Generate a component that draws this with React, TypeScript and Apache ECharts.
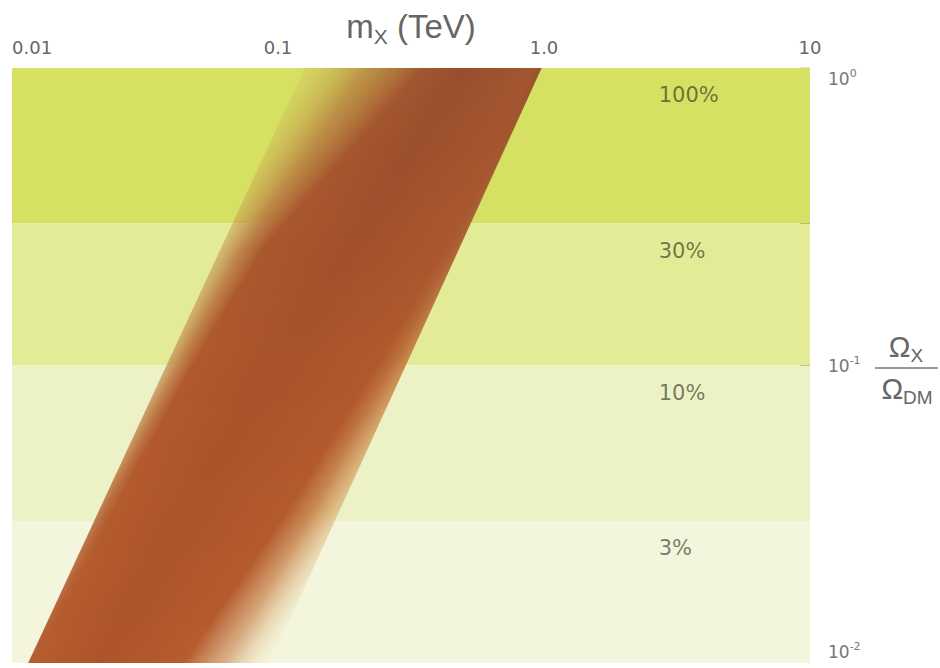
import React, { useEffect, useRef } from 'react';
import * as echarts from 'echarts';

// ---- data ----
const massTicks = [0.01, 0.1, 1, 10];
const massTickLabels = ['0.01', '0.1', '1.0', '10'];
const massTickMarks = [0.1, 1];
const ratioTickMarks = [1, 0.3, 0.1, 0.03];
const ratioLabelValues = [0.01, 0.1, 1];
const ratioExponents = ['-2', '-1', '0'];
const bandUpper = [1, 0.3, 0.1, 0.03];
const bandLower = [0.3, 0.1, 0.03, 0.01];
const bandNames = ['100%', '30%', '10%', '3%'];
// relic band: edges at the top (ratio 1) and bottom (ratio 0.01)
const relicRatio = [1, 0.01];
const relicMassLow = [0.126, 0.0115];
const relicMassHigh = [0.98, 0.0933];

// ---- styles ----
const bandColors = ['#d6e063', '#e3eb97', '#edf2c6', '#f3f6dd'];
const LABEL_MASS = 2.7;

type RGB = [number, number, number];
interface Key {
  s: number; a0L: number; wL: number; lt: RGB; ce: RGB; cm: RGB; mid: number; rt: RGB; aR: number; wR: number;
}
const keys: Key[] = [
  { s: 0, a0L: 0.2, wL: 0.5, lt: [206, 182, 82], ce: [162, 86, 48], cm: [152, 78, 46], mid: 0.66, rt: [150, 76, 45], aR: 0.95, wR: 0.03 },
  { s: 0.3, a0L: 0.55, wL: 0.18, lt: [198, 152, 82], ce: [170, 87, 46], cm: [161, 80, 44], mid: 0.55, rt: [168, 88, 48], aR: 0.9, wR: 0.06 },
  { s: 0.5, a0L: 0.7, wL: 0.11, lt: [198, 146, 84], ce: [176, 89, 45], cm: [167, 82, 42], mid: 0.45, rt: [196, 122, 62], aR: 0.85, wR: 0.12 },
  { s: 0.75, a0L: 0.88, wL: 0.06, lt: [185, 110, 60], ce: [180, 91, 45], cm: [171, 84, 42], mid: 0.36, rt: [215, 160, 95], aR: 0.5, wR: 0.22 },
  { s: 1, a0L: 0.95, wL: 0.03, lt: [176, 86, 43], ce: [182, 92, 46], cm: [173, 84, 42], mid: 0.3, rt: [238, 222, 180], aR: 0.0, wR: 0.36 },
];
const lerp = (a: number, b: number, t: number) => a + (b - a) * t;
const mixC = (a: RGB, b: RGB, t: number): RGB => [lerp(a[0], b[0], t), lerp(a[1], b[1], t), lerp(a[2], b[2], t)];
const rgba = (c: RGB, a: number) => `rgba(${Math.round(c[0])},${Math.round(c[1])},${Math.round(c[2])},${a.toFixed(3)})`;

function keyAt(s: number): Key {
  let j = 0;
  while (j < keys.length - 2 && s > keys[j + 1].s) j++;
  const k0 = keys[j];
  const k1 = keys[j + 1];
  const t = Math.max(0, Math.min(1, (s - k0.s) / (k1.s - k0.s)));
  return {
    s,
    a0L: lerp(k0.a0L, k1.a0L, t), wL: lerp(k0.wL, k1.wL, t), lt: mixC(k0.lt, k1.lt, t),
    ce: mixC(k0.ce, k1.ce, t), cm: mixC(k0.cm, k1.cm, t), mid: lerp(k0.mid, k1.mid, t),
    rt: mixC(k0.rt, k1.rt, t), aR: lerp(k0.aR, k1.aR, t), wR: lerp(k0.wR, k1.wR, t),
  };
}

function stopsAt(s: number) {
  const k = keyAt(s);
  const stops: { offset: number; color: string }[] = [];
  stops.push({ offset: 0, color: rgba(k.lt, k.a0L) });
  stops.push({ offset: k.wL * 0.5, color: rgba(mixC(k.lt, k.ce, 0.5), lerp(k.a0L, 1, 0.75)) });
  stops.push({ offset: k.wL, color: rgba(k.ce, 1) });
  const m = Math.min(Math.max(k.mid, k.wL + 0.01), 1 - k.wR - 0.01);
  stops.push({ offset: m, color: rgba(k.cm, 1) });
  stops.push({ offset: 1 - k.wR, color: rgba(k.ce, 1) });
  stops.push({ offset: 1 - k.wR * 0.5, color: rgba(mixC(k.rt, k.ce, 0.5), lerp(k.aR, 1, 0.75)) });
  stops.push({ offset: 1, color: rgba(k.rt, k.aR) });
  return stops;
}

function indexOfLog(values: number[], v: number) {
  return values.findIndex((t) => Math.abs(Math.log10(t) - Math.log10(v)) < 1e-6);
}

export default function App() {
  const ref = useRef<HTMLDivElement>(null);
  useEffect(() => {
    if (!ref.current) return;
    const chart = echarts.init(ref.current, null, { renderer: 'svg' });
    const option: any = {
      animation: false,
      backgroundColor: '#ffffff',
      grid: { left: 12, right: 130, top: 68, bottom: 5, containLabel: false, outerBoundsMode: 'none' },
      xAxis: {
        type: 'log',
        logBase: 10,
        min: 0.01,
        max: 10,
        position: 'top',
        name: '{m|m}{x|X}{t| (TeV)}',
        nameLocation: 'middle',
        nameGap: 21,
        nameMoveOverlap: false,
        nameTextStyle: {
          rich: {
            m: { fontSize: 33, fontFamily: 'Liberation Sans', color: '#666', lineHeight: 42 },
            t: { fontSize: 33, fontFamily: 'Liberation Sans', color: '#666', lineHeight: 42 },
            x: { fontSize: 21, fontFamily: 'Liberation Sans', color: '#666', verticalAlign: 'bottom', lineHeight: 20 },
          },
        },
        axisLine: { show: false },
        splitLine: { show: false },
        axisTick: { show: true, inside: true, length: 10, customValues: massTickMarks, lineStyle: { color: '#444', width: 1.3 } },
        axisLabel: {
          customValues: massTicks,
          margin: 12,
          color: '#666',
          fontSize: 18,
          fontFamily: 'DejaVu Sans',
          alignMinLabel: 'left',
          formatter: (v: number) => {
            const i = indexOfLog(massTicks, v);
            return i >= 0 ? massTickLabels[i] : '';
          },
        },
      },
      yAxis: {
        type: 'log',
        logBase: 10,
        min: 0.01,
        max: 1,
        position: 'right',
        axisLine: { show: false },
        splitLine: { show: false },
        axisTick: { show: true, inside: true, length: 10, customValues: ratioTickMarks, lineStyle: { color: '#444', width: 1.3 } },
        axisLabel: {
          customValues: ratioLabelValues,
          margin: 18,
          color: '#777',
          fontSize: 17,
          fontFamily: 'DejaVu Sans',
          verticalAlignMinLabel: 'bottom',
          verticalAlignMaxLabel: 'top',
          formatter: (v: number) => {
            const i = indexOfLog(ratioLabelValues, v);
            return i >= 0 ? `{b|10}{s|${ratioExponents[i]}}` : '';
          },
          rich: {
            b: { fontSize: 17, fontFamily: 'DejaVu Sans', color: '#777', lineHeight: 22 },
            s: { fontSize: 11, fontFamily: 'DejaVu Sans', color: '#777', verticalAlign: 'top', lineHeight: 14 },
          },
        },
      },
      series: [
        {
          type: 'custom',
          name: 'fraction bands',
          silent: true,
          encode: { x: 0, y: [1, 2] },
          data: bandUpper.map((u, i) => [LABEL_MASS, u, bandLower[i], i]),
          renderItem: (params: any, api: any) => {
            const cs = params.coordSys;
            const i = api.value(3);
            const pTop = api.coord([api.value(0), api.value(1)]);
            const pBot = api.coord([api.value(0), api.value(2)]);
            return {
              type: 'group',
              children: [
                { type: 'rect', shape: { x: cs.x, y: pTop[1], width: cs.width, height: pBot[1] - pTop[1] }, style: { fill: bandColors[i] } },
                {
                  type: 'text',
                  x: pTop[0],
                  y: pTop[1] + 27,
                  style: {
                    text: bandNames[i],
                    fill: 'rgba(45,48,28,0.64)',
                    fontSize: 21,
                    fontFamily: 'DejaVu Sans',
                    align: 'left',
                    verticalAlign: 'middle',
                  },
                },
              ],
            };
          },
        },
        {
          type: 'custom',
          name: 'relic band',
          silent: true,
          encode: { x: [0, 2, 3, 5], y: [1, 4] },
          data: [[relicMassLow[0], relicRatio[0], relicMassHigh[0], relicMassLow[1], relicRatio[1], relicMassHigh[1]]],
          renderItem: (params: any, api: any) => {
            const tl = api.coord([api.value(0), api.value(1)]);
            const tr = api.coord([api.value(2), api.value(1)]);
            const bl = api.coord([api.value(3), api.value(4)]);
            const br = api.coord([api.value(5), api.value(4)]);
            const y0 = tl[1];
            const y1 = bl[1];
            const f = (y: number) => (y - y0) / (y1 - y0);
            const lx = (y: number) => tl[0] + (bl[0] - tl[0]) * f(y);
            const rx = (y: number) => tr[0] + (br[0] - tr[0]) * f(y);
            const children: any[] = [];
            const step = 3;
            for (let ya = Math.round(y0); ya < y1 - 0.01; ya += step) {
              const yb = Math.min(ya + step, y1);
              const ym = (ya + yb) / 2;
              const xl = lx(ym);
              const xr = rx(ym);
              children.push({
                type: 'polygon',
                shape: { points: [[lx(ya), ya], [rx(ya), ya], [rx(yb), yb], [lx(yb), yb]] },
                style: {
                  fill: { type: 'linear', x: xl, y: 0, x2: xr, y2: 0, global: true, colorStops: stopsAt(Math.max(0, Math.min(1, f(ym)))) },
                },
              });
            }
            return { type: 'group', children };
          },
        },
      ],
      graphic: [
        {
          type: 'text',
          x: 906,
          y: 347,
          style: {
            text: '{o|Ω}{s|X}',
            align: 'center',
            verticalAlign: 'middle',
            fill: '#666',
            rich: {
              o: { fontSize: 29, fontFamily: 'Liberation Sans', fill: '#666', lineHeight: 36 },
              s: { fontSize: 19, fontFamily: 'Liberation Sans', fill: '#666', verticalAlign: 'bottom', lineHeight: 19 },
            },
          },
        },
        { type: 'line', shape: { x1: 875, y1: 368, x2: 938, y2: 368 }, style: { stroke: '#777', lineWidth: 1.5 } },
        {
          type: 'text',
          x: 907,
          y: 389,
          style: {
            text: '{o|Ω}{s|DM}',
            align: 'center',
            verticalAlign: 'middle',
            fill: '#666',
            rich: {
              o: { fontSize: 29, fontFamily: 'Liberation Sans', fill: '#666', lineHeight: 36 },
              s: { fontSize: 19, fontFamily: 'Liberation Sans', fill: '#666', verticalAlign: 'bottom', lineHeight: 19 },
            },
          },
        },
      ],
    };
    chart.setOption(option);
    return () => chart.dispose();
  }, []);
  return <div ref={ref} style={{ width: 940, height: 668, position: 'absolute', left: 0, top: 0 }} />;
}
